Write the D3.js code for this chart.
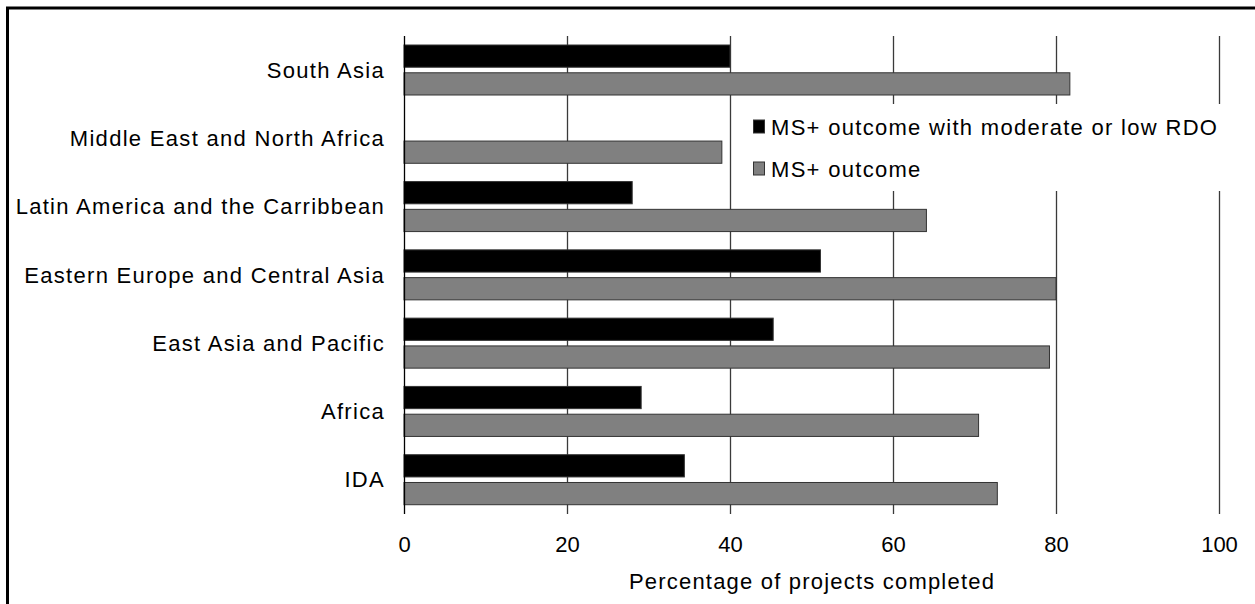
<!DOCTYPE html>
<html><head><meta charset="utf-8">
<script src="https://cdn.jsdelivr.net/npm/d3@7"></script>
<style>
html,body{margin:0;padding:0;background:#fff;}
svg{display:block;}
text{font-family:"Liberation Sans",Arial,sans-serif;fill:#000;}
</style></head>
<body>
<svg id="chart" width="1255" height="604"></svg>
<script>
const categories = ["South Asia","Middle East and North Africa","Latin America and the Carribbean","Eastern Europe and Central Asia","East Asia and Pacific","Africa","IDA"];
const seriesNames = ["MS+ outcome with moderate or low RDO","MS+ outcome"];
const rdoValues = [40.0, 0, 28.0, 51.1, 45.3, 29.1, 34.4];
const outcomeValues = [81.7, 39.0, 64.1, 80.0, 79.2, 70.5, 72.8];
const xTicks = [0,20,40,60,80,100];
const xTitle = "Percentage of projects completed";
const colors = ["#000000","#808080"];

const svg = d3.select("#chart");
const W = 1255, H = 604;

// frame (left & top visible)
svg.append("line").attr("x1",7.5).attr("x2",7.5).attr("y1",7.5).attr("y2",H).attr("stroke","#000").attr("stroke-width",3);
svg.append("line").attr("x1",6).attr("x2",W).attr("y1",8).attr("y2",8).attr("stroke","#000").attr("stroke-width",3);

const x = d3.scaleLinear().domain([0,100]).range([404,1219]);
const y0 = d3.scaleBand().domain(categories).range([36,514]).padding(0);
const y1 = d3.scaleBand().domain(seriesNames).range([9,59]).paddingInner(0.2);

const rows = categories.map((c,i)=>({cat:c, vals:[rdoValues[i], outcomeValues[i]]}));

// gridlines
svg.append("g").selectAll("line").data(xTicks.slice(1)).join("line")
  .attr("x1",d=>Math.round(x(d))+0.5).attr("x2",d=>Math.round(x(d))+0.5)
  .attr("y1",36).attr("y2",514)
  .attr("stroke","#3a3a3a").attr("stroke-width",1.3);

// legend background
svg.append("rect").attr("x",737).attr("y",104).attr("width",495).attr("height",87).attr("fill","#fff");

// bars
const g = svg.append("g");
rows.forEach(r=>{
  const gg = g.append("g").attr("transform",`translate(0,${y0(r.cat)})`);
  gg.selectAll("rect").data(r.vals.map((v,j)=>({v, s:seriesNames[j], j}))).join("rect")
    .filter(d=>d.v>0)
    .attr("x",x(0)).attr("y",d=>y1(d.s))
    .attr("width",d=>x(d.v)-x(0)).attr("height",y1.bandwidth())
    .attr("fill",d=>colors[d.j]).attr("stroke","#333").attr("stroke-width",1);
});

// left axis line
svg.append("line").attr("x1",404.5).attr("x2",404.5).attr("y1",36).attr("y2",514).attr("stroke","#000").attr("stroke-width",1.3);

// category labels
svg.append("g").selectAll("text").data(categories).join("text")
  .attr("x",385).attr("y",d=>y0(d)+y0.bandwidth()/2)
  .attr("text-anchor","end").attr("dominant-baseline","central")
  .style("font-size","22px").style("letter-spacing","1.3px")
  .text(d=>d);

// x axis tick labels
const xAxis = d3.axisBottom(x).tickValues(xTicks).tickSize(0).tickPadding(0).tickFormat(d3.format("d"));
const ax = svg.append("g").attr("transform","translate(0,536)").call(xAxis);
ax.select(".domain").remove();
ax.selectAll("text").style("font-size","22px").style("font-family","Liberation Sans, Arial, sans-serif").attr("fill","#000").attr("dy","0.71em");

// x title
svg.append("text").attr("x",812).attr("y",589).attr("text-anchor","middle")
  .style("font-size","22px").style("letter-spacing","1.2px").text(xTitle);

// legend
const leg = svg.append("g");
seriesNames.forEach((s,i)=>{
  const yy = 127 + i*42;
  leg.append("rect").attr("x",753.5).attr("y",yy-7).attr("width",11).attr("height",13)
    .attr("fill",colors[i]).attr("stroke","#333").attr("stroke-width",1);
  leg.append("text").attr("x",771).attr("y",yy).attr("dominant-baseline","central")
    .style("font-size","22px").style("letter-spacing","1.3px").text(s);
});
</script>
</body></html>
